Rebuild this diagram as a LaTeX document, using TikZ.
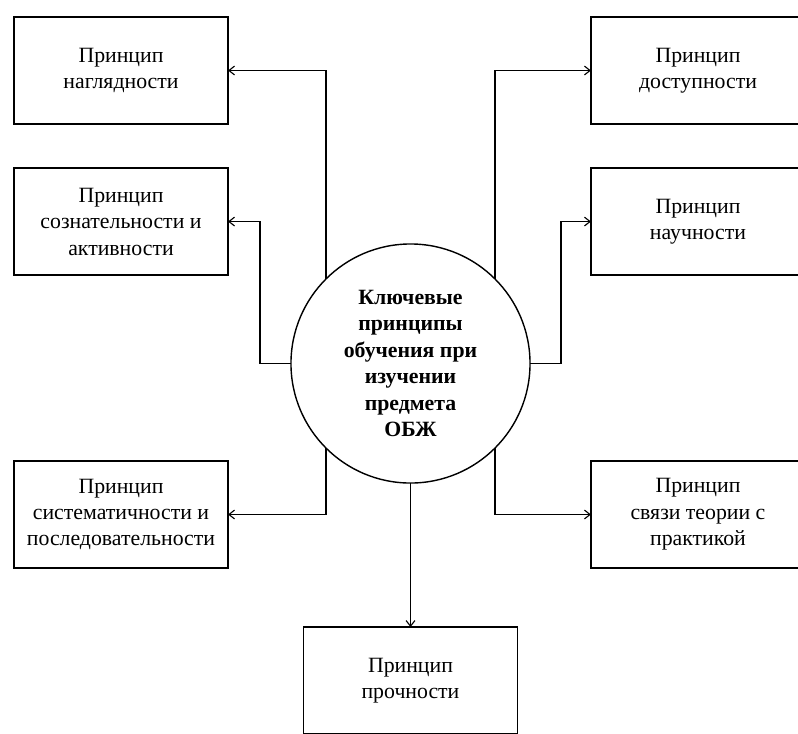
\documentclass[tikz,border=0pt]{standalone}
\usepackage{fontspec}
\setmainfont{Liberation Serif}
\usetikzlibrary{
    positioning,
    arrows.meta
}
\tikzset{%
    principle/.style={%
        rectangle,
        draw,
        line width=1.1pt,
        align=center,
        inner sep = 2pt,
        outer sep = 0pt,
        minimum width=5.35cm,
        minimum height=2.675cm,
        font=\fontsize{15.5}{18.8}\selectfont
    },
    key idea/.style={%
        circle,
        draw,
        line width=1pt,
        align=center,
        inner sep = 0pt,
        outer sep = 0pt,
        minimum width=5.975cm,
        font=\bfseries\fontsize{15.5}{18.8}\selectfont
    },
    arrow/.style={%
        line width=0.8pt,
        -{Straight Barb[length=1.4mm,width=2.2mm]}
    },
}

\begin{document}
\begin{tikzpicture}[x=0.025cm, y=-0.025cm]
    \useasboundingbox (0,0) rectangle (798,733);

    \node[key idea] (core) at (410.5,363.5) {Ключевые\\принципы\\обучения при\\изучении\\предмета\\ОБЖ};

    \node[principle] (clarity) at (121,70.5) {Принцип\\наглядности};
    \node[principle, below=1.1cm of clarity] (conscious) {Принцип\\сознательности и\\активности};
    \node[principle] (system) at (121,514.5) {Принцип\\систематичности и\\последовательности};

    \node[principle] (access) at (698,70.5) {Принцип\\доступности};
    \node[principle, below=1.1cm of access] (science) {Принцип\\научности};
    \node[principle] (practice) at (698,514.5) {Принцип\\связи теории с\\практикой};

    \node[principle, below=3.6cm of core] (strength) {Принцип\\прочности};

    \draw[arrow] (core.135) |- (clarity.east);
    \draw[arrow] (core.west) -- ++(-31,0) |- (conscious.east);
    \draw[arrow] (core.225) |- (system.east);

    \draw[arrow] (core.45) |- (access.west);
    \draw[arrow] (core.east) -- ++(31,0) |- (science.west);
    \draw[arrow] (core.-45) |- (practice.west);

    \draw[arrow] (core.south) -- (strength.north);
\end{tikzpicture}
\end{document}
